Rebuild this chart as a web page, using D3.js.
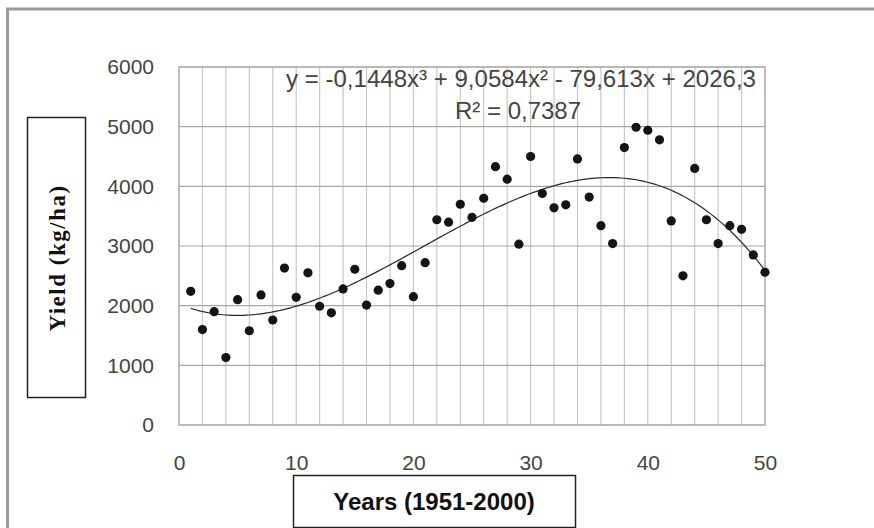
<!DOCTYPE html>
<html><head><meta charset="utf-8">
<script src="https://cdn.jsdelivr.net/npm/d3@7/dist/d3.min.js"></script>
<style>body{margin:0;background:#fff}svg{display:block}</style>
</head><body>
<script>
const years = [1,2,3,4,5,6,7,8,9,10,11,12,13,14,15,16,17,18,19,20,21,22,23,24,25,26,27,28,29,30,31,32,33,34,35,36,37,38,39,40,41,42,43,44,45,46,47,48,49,50];
const yieldValues = [2240,1600,1900,1130,2100,1580,2180,1760,2630,2140,2550,1990,1880,2280,2610,2010,2260,2370,2670,2150,2720,3440,3400,3700,3480,3800,4330,4120,3030,4500,3880,3640,3690,4460,3820,3340,3040,4650,4990,4940,4780,3420,2500,4300,3440,3040,3340,3280,2850,2560];
// trendline coefficients from the chart label: a3, a2, a1, a0
const trendCoef = [-0.1448, 9.0584, -79.613, 2026.3];
const xTicks = [0,10,20,30,40,50];
const yTicks = [0,1000,2000,3000,4000,5000,6000];
const eqLabel = "y = -0,1448x³ + 9,0584x² - 79,613x + 2026,3";
const r2Label = "R² = 0,7387";
const xTitle = "Years (1951-2000)";
const yTitle = "Yield (kg/ha)";

const W = 874, H = 528;
const svg = d3.select("body").append("svg").attr("width", W).attr("height", H);

// outer frame
svg.append("rect").attr("x", 7.5).attr("y", 9).attr("width", 900).attr("height", 600)
  .attr("fill", "none").attr("stroke", "#9a9a9a").attr("stroke-width", 3);

const L = 179, R = 765, T = 67, B = 425;
const x = d3.scaleLinear().domain([0, 50]).range([L, R]);
const y = d3.scaleLinear().domain([0, 6000]).range([B, T]);

// vertical gridlines every 2 units
const g = svg.append("g");
g.selectAll(".vg").data(d3.range(0, 51, 2)).enter().append("line")
  .attr("x1", d => x(d)).attr("x2", d => x(d)).attr("y1", T).attr("y2", B)
  .attr("stroke", "#c8c8c8").attr("stroke-width", 1.2);
g.selectAll(".hg").data(yTicks).enter().append("line")
  .attr("x1", L).attr("x2", R).attr("y1", d => y(d)).attr("y2", d => y(d))
  .attr("stroke", "#a8a8a8").attr("stroke-width", 1.2);
g.append("rect").attr("x", L).attr("y", T).attr("width", R - L).attr("height", B - T)
  .attr("fill", "none").attr("stroke", "#a8a8a8").attr("stroke-width", 1.2);

// axes (labels only)
const xAxis = svg.append("g").attr("transform", `translate(0,${B})`)
  .call(d3.axisBottom(x).tickValues(xTicks).tickSize(0).tickPadding(30));
const yAxis = svg.append("g").attr("transform", `translate(${L},0)`)
  .call(d3.axisLeft(y).tickValues(yTicks).tickSize(0).tickPadding(25).tickFormat(d3.format("d")));
[xAxis, yAxis].forEach(a => {
  a.select(".domain").remove();
  a.selectAll("text").attr("font-family", "Liberation Sans, Arial, sans-serif")
    .attr("font-size", 21).attr("fill", "#444");
});

// trendline
const trendPts = d3.range(1, 50.01, 0.25).map(t => [t,
  trendCoef[0]*t*t*t + trendCoef[1]*t*t + trendCoef[2]*t + trendCoef[3]]);
svg.append("path").datum(trendPts)
  .attr("d", d3.line().x(d => x(d[0])).y(d => y(d[1])))
  .attr("fill", "none").attr("stroke", "#2a2a2a").attr("stroke-width", 1.2);

// points
svg.selectAll(".pt").data(years).enter().append("circle")
  .attr("cx", (d) => x(d)).attr("cy", (d, i) => y(yieldValues[i]))
  .attr("r", 4.6).attr("fill", "#141414");

// equation labels
svg.append("text").attr("x", 286).attr("y", 87).text(eqLabel)
  .attr("font-family", "Liberation Sans, Arial, sans-serif").attr("font-size", 24)
  .attr("fill", "#444").attr("textLength", 470).attr("lengthAdjust", "spacingAndGlyphs");
svg.append("text").attr("x", 518).attr("y", 119).attr("text-anchor", "middle").text(r2Label)
  .attr("font-family", "Liberation Sans, Arial, sans-serif").attr("font-size", 24)
  .attr("fill", "#444");

// x title box
svg.append("rect").attr("x", 293.5).attr("y", 475.5).attr("width", 282).attr("height", 52)
  .attr("fill", "#fff").attr("stroke", "#222").attr("stroke-width", 1.5);
svg.append("text").attr("x", 434).attr("y", 510).attr("text-anchor", "middle").text(xTitle)
  .attr("font-family", "Liberation Sans, Arial, sans-serif").attr("font-weight", "bold")
  .attr("font-size", 24).attr("fill", "#111");

// y title box
svg.append("rect").attr("x", 27.5).attr("y", 117.5).attr("width", 58).attr("height", 280)
  .attr("fill", "#fff").attr("stroke", "#222").attr("stroke-width", 1.5);
svg.append("text").attr("transform", "translate(65,258) rotate(-90)")
  .attr("text-anchor", "middle").text(yTitle)
  .attr("font-family", "Liberation Serif, Times New Roman, serif").attr("font-weight", "bold")
  .attr("font-size", 23).attr("letter-spacing", 1.5).attr("fill", "#111");
</script>
</body></html>
